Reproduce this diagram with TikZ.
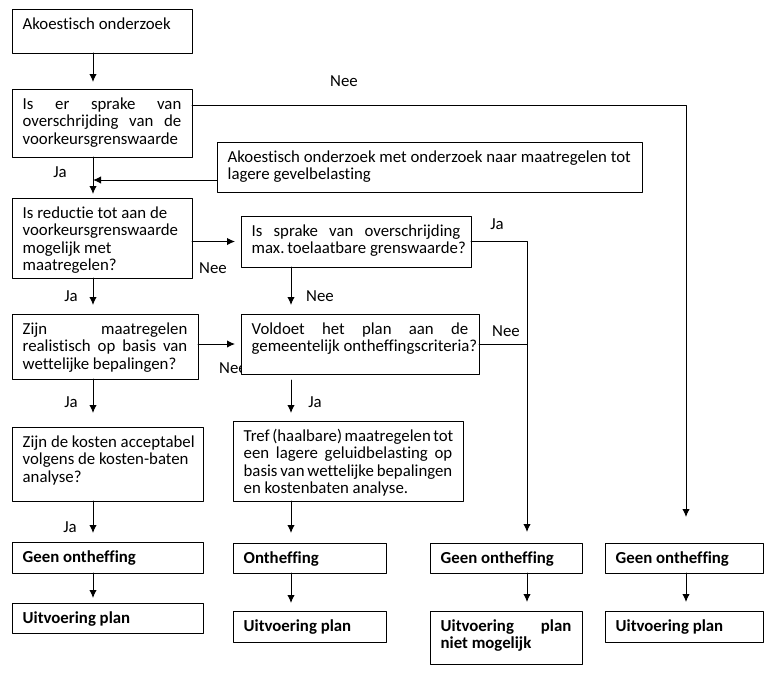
\documentclass[tikz,border=0pt]{standalone}
\usepackage{fontspec}
\setmainfont{Carlito}[Ligatures=NoCommon]
\usetikzlibrary{arrows.meta}
\newdimen\px \px=0.75pt
% one line of a box, stretched to full width / kept as is
\newcommand{\jline}[1]{\makebox[\linewidth][s]{#1}\par}
\newcommand{\pline}[1]{\mbox{#1}\par}
% box contents: width, height (px), lines
\newcommand{\boxtxt}[3]{\parbox[c][#2\px][t]{\dimexpr#1\px-16pt\relax}{\fontsize{12.6pt}{13.2pt}\selectfont\rule{0pt}{15pt}#3}}
\begin{document}
\begin{tikzpicture}[x=0.75pt,y=-0.75pt,line cap=round,line join=round,>={Latex[length=6pt,width=5.5pt]},
  box/.style={draw,line width=0.75pt,fill=white,anchor=north west,inner xsep=8pt,inner ysep=0pt,outer sep=0pt},
  lbl/.style={inner sep=0pt,font=\fontsize{12.6pt}{13.2pt}\selectfont},
  conn/.style={line width=0.75pt}]
  \fill[white] (0,0) rectangle (766,689);
  \useasboundingbox (0,0) rectangle (766,689);
  % columns of the arrows
  \coordinate (colA) at (93,0);
  \coordinate (colB) at (291,0);
  \coordinate (colC) at (527,0);
  \coordinate (colD) at (686,0);
  \coordinate (rowNee) at (0,105);
  \coordinate (join) at (93,180);
  % labels
  \node[lbl] (neeA) at (344,81) {Nee};
  \node[lbl] (jaA) at (60,172) {Ja};
  \node[lbl] (neeB) at (213,268) {Nee};
  \node[lbl] (jaB) at (497,224) {Ja};
  \node[lbl] (jaC) at (71,296) {Ja};
  \node[lbl] (neeC) at (320,296) {Nee};
  \node[lbl] (neeD) at (506,331) {Nee};
  \node[lbl] (neeE) at (233,368) {Nee};
  \node[lbl] (jaD) at (71,402) {Ja};
  \node[lbl] (jaE) at (315,402) {Ja};
  \node[lbl] (jaF) at (70,527) {Ja};
  % boxes
  \node[box] (akoe) at (12,9) {\boxtxt{180}{44}{\pline{Akoestisch onderzoek}}};
  \node[box] (overschr) at (12,89) {\boxtxt{180}{68}{\jline{Is er sprake van}\jline{overschrijding van de}\pline{voorkeursgrenswaarde}}};
  \node[box] (gevel) at (217,142) {\boxtxt{425}{50}{\pline{Akoestisch onderzoek met onderzoek naar maatregelen tot}\pline{lagere gevelbelasting}}};
  \node[box] (reductie) at (12,198) {\boxtxt{180}{80}{\pline{Is reductie tot aan de}\pline{voorkeursgrenswaarde}\pline{mogelijk met}\pline{maatregelen?}}};
  \node[box] (maxgrens) at (241,216) {\boxtxt{230}{51}{\jline{Is sprake van overschrijding}\pline{max.\,toelaatbare grenswaarde?}}};
  \node[box] (realist) at (12,314) {\boxtxt{186}{65}{\jline{Zijn maatregelen}\jline{realistisch op basis van}\pline{wettelijke bepalingen?}}};
  \node[box] (voldoet) at (241,314) {\boxtxt{238}{60}{\jline{Voldoet het plan aan de}\pline{gemeentelijk ontheffingscriteria?}}};
  \node[box] (kosten) at (12,427) {\boxtxt{191}{74}{\pline{Zijn de kosten acceptabel}\pline{volgens de kosten-baten}\pline{analyse?}}};
  \node[box] (tref) at (233,421) {\boxtxt{230}{80}{\jline{Tref (haalbare) maatregelen tot}\jline{een lagere geluidbelasting op}\jline{basis van wettelijke bepalingen}\pline{en kostenbaten analyse.}}};
  \node[box] (geenA) at (12,542) {\boxtxt{191}{31}{\bfseries\pline{Geen ontheffing}}};
  \node[box] (onth) at (233,543) {\boxtxt{153}{30}{\bfseries\pline{Ontheffing}}};
  \node[box] (geenC) at (430,543) {\boxtxt{152}{30}{\bfseries\pline{Geen ontheffing}}};
  \node[box] (geenD) at (605,543) {\boxtxt{158}{30}{\bfseries\pline{Geen ontheffing}}};
  \node[box] (uitvA) at (12,603) {\boxtxt{191}{30}{\bfseries\pline{Uitvoering plan}}};
  \node[box] (uitvB) at (233,611) {\boxtxt{153}{31}{\bfseries\pline{Uitvoering plan}}};
  \node[box] (uitvC) at (430,611) {\boxtxt{152}{53}{\bfseries\jline{Uitvoering plan}\pline{niet mogelijk}}};
  \node[box] (uitvD) at (605,611) {\boxtxt{158}{31}{\bfseries\pline{Uitvoering plan}}};
  % first column
  \draw[conn,->,shorten >=7*\px] (akoe.south -| colA) -- (overschr.north -| colA);
  \draw[conn,->,shorten >=4*\px] (overschr.south -| colA) -- (reductie.north -| colA);
  \draw[conn,->] (gevel.west |- join) -- (join);
  \draw[conn,->,shorten >=9*\px] (reductie.south -| colA) -- (realist.north -| colA);
  \draw[conn,->,shorten >=14*\px] (realist.south -| colA) -- (kosten.north -| colA);
  \draw[conn,->,shorten >=9*\px] (kosten.south -| colA) -- (geenA.north -| colA);
  \draw[conn,->,shorten >=5*\px] (geenA.south -| colA) -- (uitvA.north -| colA);
  % across
  \draw[conn,->,shorten >=6*\px] (reductie.east |- maxgrens.west) -- (maxgrens.west);
  \draw[conn,->,shorten >=6*\px] (realist.east |- voldoet.west) -- (voldoet.west);
  % second column
  \draw[conn,->,shorten >=9*\px] (maxgrens.south -| colB) -- (voldoet.north -| colB);
  \draw[conn,->,shorten <=6*\px,shorten >=8*\px] (voldoet.south -| colB) -- (tref.north -| colB);
  \draw[conn,->,shorten >=10*\px] (tref.south -| colB) -- (onth.north -| colB);
  \draw[conn,->,shorten >=8*\px] (onth.south -| colB) -- (uitvB.north -| colB);
  % third and fourth column
  \draw[conn,->,shorten >=11*\px] (maxgrens.east) -| (geenC.north -| colC);
  \draw[conn] (voldoet.east) -- (voldoet.east -| colC);
  \draw[conn,->,shorten >=9*\px] (geenC.south -| colC) -- (uitvC.north -| colC);
  \draw[conn,->,shorten >=26*\px] (overschr.east |- rowNee) -| (geenD.north -| colD);
  \draw[conn,->,shorten >=9*\px] (geenD.south -| colD) -- (uitvD.north -| colD);
\end{tikzpicture}
\end{document}
